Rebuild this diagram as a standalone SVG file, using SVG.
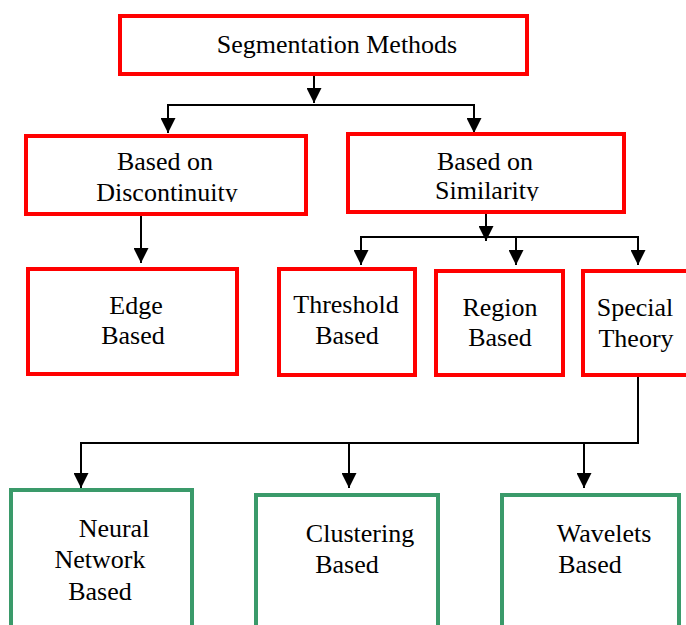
<svg xmlns="http://www.w3.org/2000/svg" width="686" height="625" viewBox="0 0 686 625">
<style>
.red{fill:#fff;stroke:#ff0000;stroke-width:4}
.grn{fill:#fff;stroke:#3a9a6a;stroke-width:4}
.t{font-family:"Liberation Serif","Times New Roman",serif;font-size:26px;fill:#000;text-anchor:middle}
.c{fill:none;stroke:#000;stroke-width:2}
</style>
<defs>
<marker id="ah" markerUnits="userSpaceOnUse" markerWidth="15" markerHeight="15" refX="15" refY="7.5" orient="auto">
<path d="M0,0 L15,7.5 L0,15 z" fill="#000"/>
</marker>
<clipPath id="clipL"><rect x="25" y="135" width="282" height="67"/></clipPath>
<clipPath id="clipR"><rect x="347" y="133" width="280" height="68"/></clipPath>
</defs>
<rect width="686" height="625" fill="#fff"/>
<g id="connectors">
<line class="c" x1="314" y1="75" x2="314" y2="103" marker-end="url(#ah)"/>
<polyline class="c" points="168,133 168,105 474,105 474,133" marker-end="url(#ah)"/>
<line class="c" x1="168" y1="105" x2="168" y2="133" marker-end="url(#ah)"/>
<line class="c" x1="141" y1="215" x2="141" y2="263" marker-end="url(#ah)"/>
<line class="c" x1="486" y1="213" x2="486" y2="241" marker-end="url(#ah)"/>
<polyline class="c" points="361,265 361,237 638,237 638,265" marker-end="url(#ah)"/>
<line class="c" x1="361" y1="237" x2="361" y2="265" marker-end="url(#ah)"/>
<line class="c" x1="516" y1="237" x2="516" y2="265" marker-end="url(#ah)"/>
<polyline class="c" points="638,376 638,443 81,443 81,488" marker-end="url(#ah)"/>
<line class="c" x1="349" y1="443" x2="349" y2="488" marker-end="url(#ah)"/>
<line class="c" x1="584" y1="443" x2="584" y2="488" marker-end="url(#ah)"/>
</g>
<g id="n-root"><rect class="red" x="120" y="16" width="407" height="58"/><text class="t" x="337" y="53">Segmentation Methods</text></g>
<g id="n-disc"><rect class="red" x="26" y="136" width="280" height="78"/><g clip-path="url(#clipL)"><text class="t" x="165" y="170">Based on</text><text class="t" x="167" y="201">Discontinuity</text></g></g>
<g id="n-sim"><rect class="red" x="348" y="134" width="276" height="78"/><g clip-path="url(#clipR)"><text class="t" x="485" y="170">Based on</text><text class="t" x="487" y="199">Similarity</text></g></g>
<g id="n-edge"><rect class="red" x="28" y="269" width="209" height="105"/><text class="t" x="136" y="314">Edge</text><text class="t" x="133" y="344">Based</text></g>
<g id="n-thr"><rect class="red" x="279" y="269" width="136" height="106"/><text class="t" x="346" y="313">Threshold</text><text class="t" x="347" y="344">Based</text></g>
<g id="n-reg"><rect class="red" x="436" y="271" width="127" height="104"/><text class="t" x="500" y="316">Region</text><text class="t" x="500" y="346">Based</text></g>
<g id="n-spec"><rect class="red" x="583" y="271" width="108" height="104"/><text class="t" x="635" y="316">Special</text><text class="t" x="636" y="347">Theory</text></g>
<g id="n-nn"><rect class="grn" x="11" y="490" width="181" height="150"/><text class="t" x="114" y="537">Neural</text><text class="t" x="100" y="568">Network</text><text class="t" x="100" y="600">Based</text></g>
<g id="n-clu"><rect class="grn" x="256" y="495" width="182" height="145"/><text class="t" x="360" y="542">Clustering</text><text class="t" x="347" y="573">Based</text></g>
<g id="n-wav"><rect class="grn" x="502" y="495" width="177" height="145"/><text class="t" x="604" y="542">Wavelets</text><text class="t" x="590" y="573">Based</text></g>
</svg>
